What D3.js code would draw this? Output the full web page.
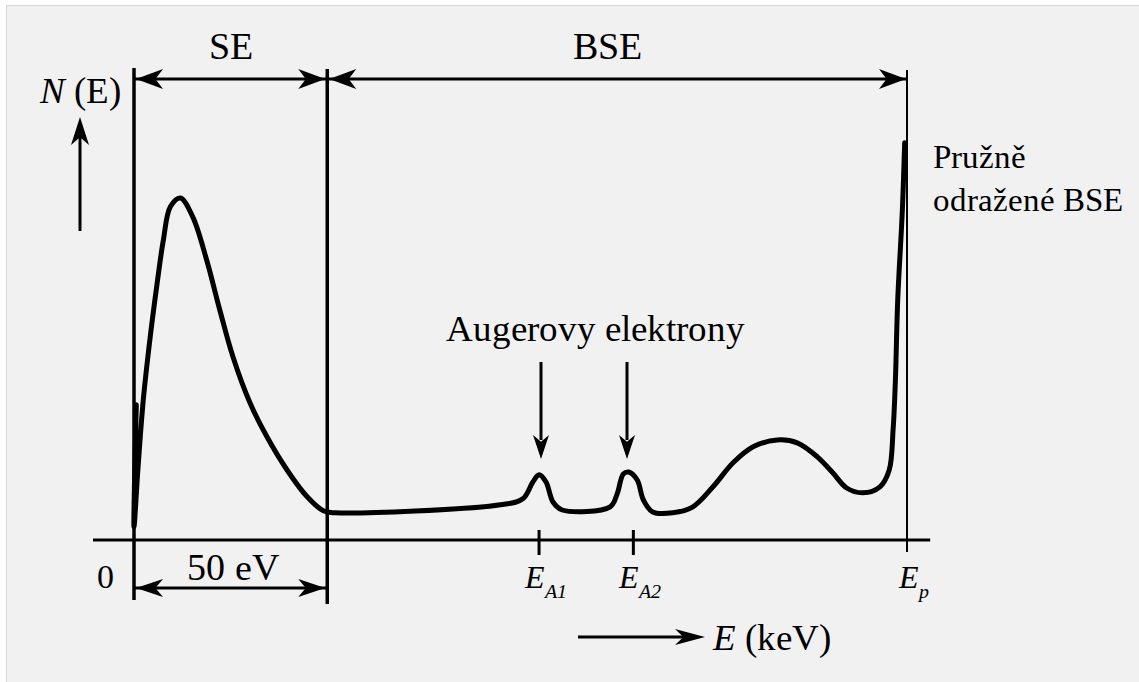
<!DOCTYPE html>
<html lang="cs">
<head>
<meta charset="utf-8">
<style>
@font-face { font-family: "ChartSerif"; src: local("Liberation Serif"), local("LiberationSerif"); font-style: normal; }
@font-face { font-family: "ChartSerif"; src: local("Liberation Serif Italic"), local("LiberationSerif-Italic"); font-style: italic; }
body { margin: 0; }
</style>
</head>
<body>
<script src="https://d3js.org/d3.v7.min.js"></script>
<script>

// energy in relative units: 0 = zero, 25 = 50 eV (SE/BSE boundary), 100 = Ep
var curveX = [0.3, 0.0, 0.5, 1.2, 2.1, 3.0, 3.8, 4.7, 6.0, 7.6, 9.4, 11.1, 12.8, 15.0, 17.2, 19.8, 22.4, 24.5, 26.0,
              47.4, 50.3, 51.6, 52.4, 53.3, 54.2, 55.4, 61.6, 62.5, 63.3, 64.0, 65.1, 65.9, 67.1, 69.7,
              72.3, 74.9, 77.5, 80.1, 83.2, 85.8, 88.4, 90.4, 92.2, 94.3, 96.5, 97.7, 98.2, 98.5, 98.8, 99.4, 99.7];
// N(E) in relative units
var curveY = [33.8, 3.3, 17.5, 35.0, 50.8, 64.3, 75.0, 83.3, 85.5, 80.8, 70.0, 57.5, 45.8, 34.3, 25.8, 17.5, 10.8, 7.3, 6.8,
              8.8, 10.3, 14.5, 16.3, 14.5, 9.5, 7.5, 8.3, 11.5, 16.5, 17.0, 15.0, 10.0, 7.0, 6.8,
              8.3, 13.3, 19.3, 23.3, 25.0, 24.3, 20.8, 16.8, 13.0, 11.8, 13.3, 17.5, 27.5, 40.0, 60.0, 82.5, 99.3];

var seBoundary = 25;
var ep = 100;
var augerPeaks = [52.4, 64.6];
var augerLabels = ["A1", "A2"];

var width = 1139, height = 682;

var svg = d3.select("body").append("svg")
    .attr("width", width)
    .attr("height", height);

svg.append("rect")
    .attr("x", 6.5).attr("y", 5.5)
    .attr("width", width).attr("height", height)
    .style("fill", "#f1f1f1")
    .style("stroke", "#d8d8d8");

var x = d3.scaleLinear().domain([0, 100]).range([134, 907]);
var y = d3.scaleLinear().domain([0, 100]).range([540, 140]);

function label(tx, ty, size) {
  return svg.append("text")
      .attr("x", tx).attr("y", ty)
      .style("font-family", "ChartSerif")
      .style("font-size", size + "px");
}

// barbed arrow head, tip at (tx,ty), rotated by angle (deg, 0 = pointing right)
function arrowHead(tx, ty, angle, len, half) {
  svg.append("path")
      .attr("d", "M0,0L" + (-len) + "," + (-half) + "L" + (-len * 0.72) + ",0L" + (-len) + "," + half + "Z")
      .attr("transform", "translate(" + tx + "," + ty + ") rotate(" + angle + ")")
      .style("fill", "#000");
}

function hline(x1, x2, yy, w) {
  svg.append("line")
      .attr("x1", x1).attr("x2", x2).attr("y1", yy).attr("y2", yy)
      .style("stroke", "#000")
      .style("stroke-width", w);
}

function vline(xx, y1, y2, w) {
  svg.append("line")
      .attr("x1", xx).attr("x2", xx).attr("y1", y1).attr("y2", y2)
      .style("stroke", "#000")
      .style("stroke-width", w);
}

// energy axis
hline(x(-5.3), x(103), y(0), 3);

// boundary lines
vline(x(0), 68, 600, 3.5);
vline(x(seBoundary), 69, 604, 3.5);
vline(x(ep), 70, 552, 2);

// auger ticks
augerPeaks.forEach(function(p) {
  vline(x(p), 530, 555, 3);
});

// SE / BSE double arrows on top
var topY = 79;
hline(x(0), x(seBoundary), topY, 3);
arrowHead(x(0) + 2, topY, 180, 27, 10);
arrowHead(x(seBoundary) - 2, topY, 0, 27, 10);
hline(x(seBoundary), x(ep), topY, 3);
arrowHead(x(seBoundary) + 2, topY, 180, 27, 10);
arrowHead(x(ep) - 1, topY, 0, 27, 10);

label((x(0) + x(seBoundary)) / 2, 59, 38).attr("text-anchor", "middle").text("SE");
label(607, 59, 38).attr("text-anchor", "middle").text("BSE");

// 50 eV double arrow
var botY = 588;
hline(x(0), x(seBoundary), botY, 3);
arrowHead(x(0) + 2, botY, 180, 27, 9);
arrowHead(x(seBoundary) - 2, botY, 0, 27, 9);
label(233, 580, 38).attr("text-anchor", "middle").text("50 eV");
label(105, 588, 34).attr("text-anchor", "middle").text("0");

// N(E) label and arrow
var nLabel = label(40, 103, 37);
nLabel.append("tspan").style("font-style", "italic").text("N");
nLabel.append("tspan").text(" (E)");
vline(80, 231, 130, 3);
arrowHead(80, 117, -90, 28, 9);

// spectrum curve
var pts = curveX.map(function(d, i) { return [d, curveY[i]]; });
var line = d3.line()
    .x(function(d) { return x(d[0]); })
    .y(function(d) { return y(d[1]); })
    .curve(d3.curveCatmullRom.alpha(0.5));

svg.append("path")
    .datum(pts)
    .attr("d", line)
    .style("fill", "none")
    .style("stroke", "#000")
    .style("stroke-width", 5)
    .style("stroke-linejoin", "round")
    .style("stroke-linecap", "round");

// Auger annotation
label(446, 341, 37).text("Augerovy elektrony");
var arrowX = [541, 627];
arrowX.forEach(function(ax) {
  vline(ax, 362, 440, 3);
  arrowHead(ax, 459, 90, 24, 8);
});

// tick labels E_A1, E_A2, E_p
augerPeaks.forEach(function(p, i) {
  var t = label(x(p) - 14, 588, 32).style("font-style", "italic");
  t.append("tspan").text("E");
  t.append("tspan").attr("dy", 10).style("font-size", "20px").text(augerLabels[i]);
});
var tp = label(x(ep) - 8, 588, 32).style("font-style", "italic");
tp.append("tspan").text("E");
tp.append("tspan").attr("dy", 10).style("font-size", "20px").text("p");

// E (keV) arrow
hline(578, 690, 637, 3);
arrowHead(705, 637, 0, 30, 8);
var eLabel = label(713, 650, 37);
eLabel.append("tspan").style("font-style", "italic").text("E");
eLabel.append("tspan").text(" (keV)");

// elastic peak label
label(933, 168, 33).text("Pružně");
label(933, 211, 33).text("odražené BSE");

</script>
</body>
</html>
